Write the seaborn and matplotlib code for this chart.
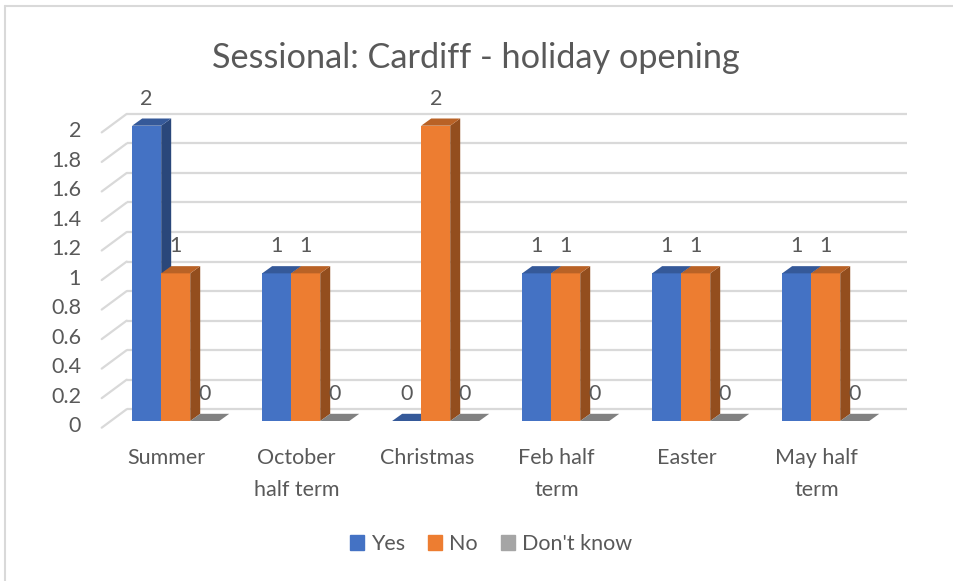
import numpy as np
import pandas as pd
import matplotlib
matplotlib.use("Agg")
import matplotlib.pyplot as plt
import seaborn as sns
from matplotlib.patches import Polygon, Patch
from matplotlib.lines import Line2D
from matplotlib.transforms import offset_copy, IdentityTransform

# данные
periods = ["Summer", "October\nhalf term", "Christmas", "Feb half\nterm", "Easter", "May half\nterm"]
answers = ["Yes", "No", "Don't know"]
yes_vals = [2, 1, 0, 1, 1, 1]
no_vals = [1, 1, 2, 1, 1, 1]
dk_vals = [0, 0, 0, 0, 0, 0]
y_ticks = [0, 0.2, 0.4, 0.6, 0.8, 1, 1.2, 1.4, 1.6, 1.8, 2]
colors = ["#4472C4", "#ED7D31", "#A5A5A5"]
title = "Sessional: Cardiff - holiday opening"

df = pd.DataFrame({
    "period": periods * 3,
    "answer": [a for a in answers for _ in periods],
    "count": yes_vals + no_vals + dk_vals,
})

sns.set_theme(style="white")
plt.rcParams["font.family"] = ["Lato", "DejaVu Sans"]
text_col = "#595959"
fs = 15.5

W, H = 954, 581
fig = plt.figure(figsize=(W / 100, H / 100), dpi=100)
ax = fig.add_axes([110.7 / W, (H - 421) / H, 780 / W, 295.3 / H])

sns.barplot(data=df, x="period", y="count", hue="answer", palette=colors,
            width=0.67, gap=0, saturation=1, legend=False, linewidth=0, ax=ax)
ax.set_xlim(-0.5, 5.5)
ax.set_ylim(0, 2)
ax.set_autoscale_on(False)
ax.axis("off")

# смещения "глубины" в пикселях (вверх = +)
front = (-9, -6.7)
back = (16, 11.8)
depth = (10, 7.2)

grid_col = "#d9d9d9"
back_tr = offset_copy(ax.transData, fig=fig, x=back[0], y=back[1], units="dots")
ax.hlines(y_ticks, -0.5, 5.5, transform=back_tr, color=grid_col, lw=1.6,
          zorder=1, clip_on=False)
for v in y_ticks:
    px, py = ax.transData.transform((-0.5, v))
    ax.add_line(Line2D([px + front[0], px + back[0]], [py + front[1], py + back[1]],
                       transform=IdentityTransform(), color=grid_col, lw=1.6,
                       zorder=1, clip_on=False))
    ax.text(-0.5, v, f"{v:g}", transform=offset_copy(ax.transData, fig=fig, x=-29.7, y=-5.5, units="dots"),
            ha="right", va="center", fontsize=fs, color=text_col)

for i, p in enumerate(periods):
    ax.text(i, 0, p, transform=offset_copy(ax.transData, fig=fig, x=front[0], y=front[1] - 20, units="dots"),
            ha="center", va="top", fontsize=fs, color=text_col, linespacing=1.75)


def shade(c, f):
    r, g, b = matplotlib.colors.to_rgb(c)
    return (r * f, g * f, b * f)


# 3D грани столбцов
bars = sorted(ax.patches, key=lambda r: r.get_x())
for k, r in enumerate(bars):
    x0, y0 = ax.transData.transform((r.get_x(), 0))
    x1, y1 = ax.transData.transform((r.get_x() + r.get_width(), r.get_height()))
    dx, dy = depth
    fc = r.get_facecolor()
    r.set_zorder(10 + k)
    side = Polygon([(x1, y0), (x1, y1), (x1 + dx, y1 + dy), (x1 + dx, y0 + dy)],
                   closed=True, facecolor=shade(fc, 0.62), lw=0,
                   transform=IdentityTransform(), zorder=10.5 + k, clip_on=False)
    top = Polygon([(x0, y1), (x1, y1), (x1 + dx, y1 + dy), (x0 + dx, y1 + dy)],
                  closed=True, facecolor=shade(fc, 0.78), lw=0,
                  transform=IdentityTransform(), zorder=10.5 + k, clip_on=False)
    ax.add_patch(side)
    ax.add_patch(top)
    ax.annotate(f"{r.get_height():g}", (r.get_x() + r.get_width() / 2, r.get_height()),
                xytext=(0, 27), textcoords="offset pixels", ha="center", va="center",
                fontsize=fs, color=text_col, zorder=50, annotation_clip=False)

fig.text(476 / W, 1 - 58 / H, title, ha="center", va="center", fontsize=24.7, color=text_col)

handles = [Patch(color=c, label=a) for c, a in zip(colors, answers)]
fig.legend(handles=handles, loc="center", bbox_to_anchor=(491 / W, 1 - 544 / H), ncol=3,
           frameon=False, fontsize=fs, labelcolor=text_col, handlelength=0.65,
           handleheight=0.65, handletextpad=0.3, columnspacing=1.1)

# рамка диаграммы
fig.add_artist(Line2D([5.5 / W, 5.5 / W], [0, 1 - 5.5 / H], color=grid_col, lw=1.5))
fig.add_artist(Line2D([5.5 / W, 1], [1 - 5.5 / H, 1 - 5.5 / H], color=grid_col, lw=1.5))

fig.savefig("out.png", dpi=100)
